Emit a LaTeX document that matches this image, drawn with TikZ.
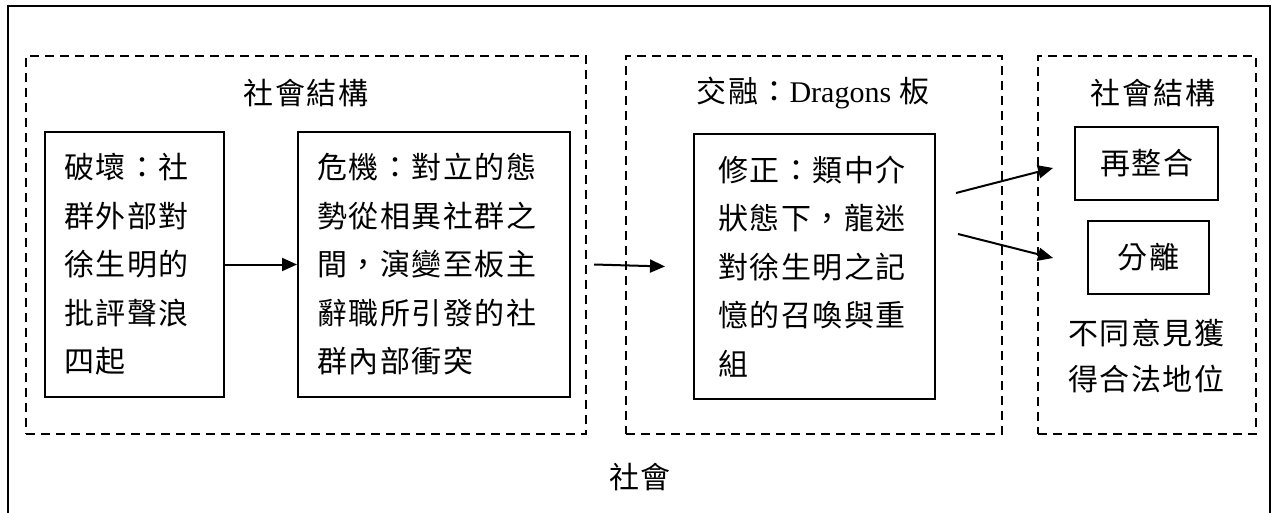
\documentclass[tikz,border=0pt]{standalone}
\usepackage{fontspec}
\setmainfont{Liberation Serif}
\newfontfamily\cjk[LetterSpace=5]{Noto Sans CJK TC}
\usetikzlibrary{arrows.meta,calc}
\begin{document}
\begin{tikzpicture}[x=1pt,y=-1pt,
  every node/.style={font=\cjk\fontsize{30}{48.5}\selectfont},
  grp/.style={draw, line width=1.8pt, dash pattern=on 9pt off 6pt, inner sep=0pt, anchor=north west},
  box/.style={draw, line width=2pt, inner sep=0pt, anchor=north west},
  txtbox/.style={box, align=left, inner xsep=#1},
  lbl/.style={inner sep=0pt, align=center},
  arr/.style={-{Triangle[length=15pt,width=13pt]}, line width=2pt}
]
\useasboundingbox (0,0) rectangle (1277,513);
\draw[line width=2pt] (8,513) -- (8,6) -- (1270,6) -- (1270,513);

\node[grp, minimum width=560pt, minimum height=378pt] (g1) at (25,55) {};
\node[grp, minimum width=376pt, minimum height=378pt] (g2) at (625,55) {};
\node[grp, minimum width=218pt, minimum height=378pt] (g3) at (1037,55) {};

\node[lbl] (h1) at (306,93) {社會結構};
\node[lbl] (h2) at (813,93) {交融：{\rmfamily\fontsize{30}{36}\selectfont Dragons} 板};
\node[lbl] (h3) at (1153,93) {社會結構};

\node[txtbox=19pt, text width=141pt, minimum height=265pt] (a) at (44,131)
  {破壞：社\\群外部對\\徐生明的\\批評聲浪\\四起};
\node[txtbox=19pt, text width=234pt, minimum height=265pt] (b) at (297,131)
  {危機：對立的態\\勢從相異社群之\\間，演變至板主\\辭職所引發的社\\群內部衝突};
\node[txtbox=24pt, text width=193pt, minimum height=265pt] (c) at (693,133)
  {修正：類中介\\狀態下，龍迷\\對徐生明之記\\憶的召喚與重\\組};

\node[box, minimum width=143pt, minimum height=73pt] (d) at (1074,126) {再整合};
\node[box, minimum width=121pt, minimum height=73pt] (e) at (1087,220) {分離};
\node[lbl] (f) at (1146,356) {不同意見獲\\[-2pt]得合法地位};

\node[lbl] (s) at (640,477) {社會};

\draw[arr] (a.east) -- (b.west);
\draw[arr] ($(b.east)+(23,0)$) -- ($(c.west)+(-28,0)$);
\draw[arr] ($(c.east)+(20,-73.5)$) -- ($(d.west)+(-21,4.5)$);
\draw[arr] ($(c.east)+(22,-32.5)$) -- ($(e.west)+(-34,0.5)$);
\end{tikzpicture}
\end{document}
